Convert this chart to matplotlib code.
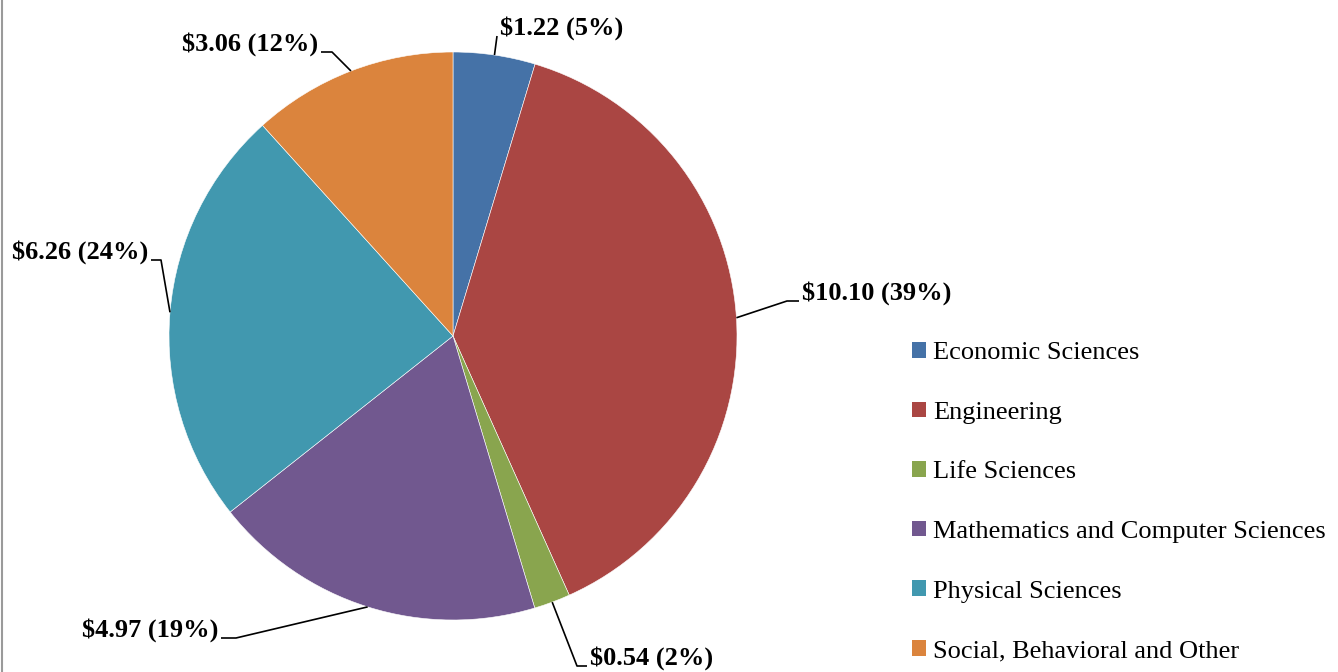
import numpy as np
import matplotlib.pyplot as plt
from matplotlib.lines import Line2D

### Data
categories = ['Economic Sciences', 'Engineering', 'Life Sciences',
              'Mathematics and Computer Sciences', 'Physical Sciences',
              'Social, Behavioral and Other']
amounts = [1.22, 10.10, 0.54, 4.97, 6.26, 3.06]
colors = ['#4572A7', '#AA4643', '#89A54E', '#71588F', '#4198AF', '#DB843D']

# label text positions in pixels from top-left (x of text edge, y of text centre), side
label_pos = [(500, 28, 'left'), (802, 293, 'left'), (590, 658, 'left'),
             (218, 630, 'right'), (148, 252, 'right'), (318, 44, 'right')]
hook_len = [0, 12, 10, 15, 10, 11]

W, H = 1338, 672
cx, cy, R = 453, 336, 284

plt.rcParams['font.family'] = ['Liberation Serif', 'DejaVu Serif']

fig = plt.figure(figsize=(W / 100, H / 100), dpi=100)
ax = fig.add_axes([0, 0, 1, 1])

wedges, _ = ax.pie(amounts, colors=colors, startangle=90, counterclock=False,
                   center=(cx, H - cy), radius=R,
                   wedgeprops=dict(edgecolor='white', linewidth=0.4))

total = sum(amounts)
for w, val, (tx, ty, side), hl in zip(wedges, amounts, label_pos, hook_len):
    ang = np.deg2rad((w.theta1 + w.theta2) / 2)
    ax_x = cx + R * np.cos(ang)
    ax_y = (H - cy) + R * np.sin(ang)
    ty_d = H - ty
    ly = ty_d - 8
    if side == 'left':
        ex, hx = tx - 3 - hl, tx - 3
        ha = 'left'
    else:
        ex, hx = tx + 3 + hl, tx + 3
        ha = 'right'
    ax.plot([ax_x, ex, hx], [ax_y, ly, ly], color='black', lw=1.2,
            solid_capstyle='butt')
    pct = val / total * 100
    ax.text(tx, ty_d, f'${val:.2f} ({pct:.0f}%)', ha=ha, va='center',
            fontsize=19, fontweight='bold', color='black')

handles = [plt.Rectangle((0, 0), 1, 1, facecolor=c, edgecolor='none') for c in colors]
ax.legend(handles, categories, loc='upper left', bbox_to_anchor=(912 / W, 1 - 342 / H),
          bbox_transform=fig.transFigure, frameon=False, fontsize=19,
          handlelength=0.53, handleheight=0.53, handletextpad=0.28,
          labelspacing=1.42, borderpad=0, borderaxespad=0)

ax.set_xlim(0, W)
ax.set_ylim(0, H)
ax.set_aspect('equal')
ax.axis('off')

# thin grey border at left edge
fig.add_artist(Line2D([1.5 / W, 1.5 / W], [0, 1], transform=fig.transFigure,
                      color='#9a9a9a', lw=1.5))

fig.savefig('out.png', dpi=100)
